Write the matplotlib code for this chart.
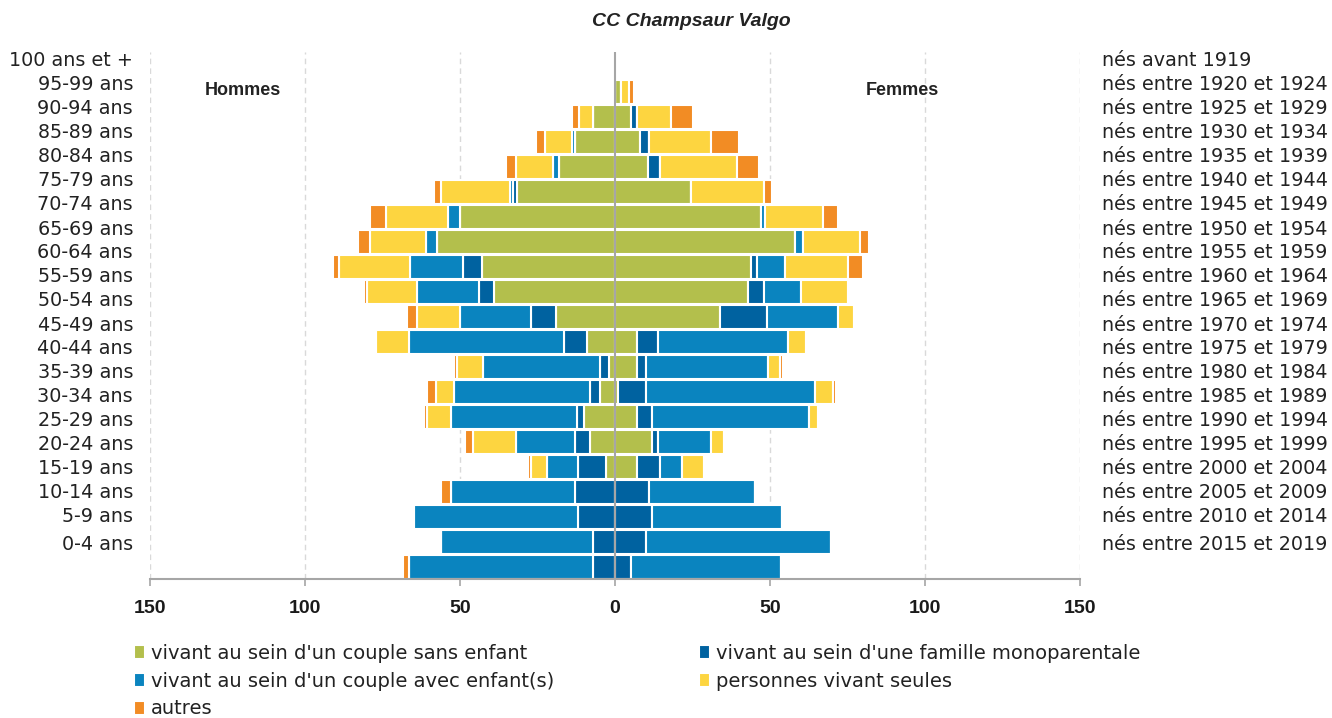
import numpy as np
import matplotlib
matplotlib.use("Agg")
import matplotlib.pyplot as plt

# age groups, bottom (0-4) to top (100+)
ages = ["0-4 ans", "5-9 ans", "10-14 ans", "15-19 ans", "20-24 ans", "25-29 ans",
        "30-34 ans", "35-39 ans", "40-44 ans", "45-49 ans", "50-54 ans", "55-59 ans",
        "60-64 ans", "65-69 ans", "70-74 ans", "75-79 ans", "80-84 ans", "85-89 ans",
        "90-94 ans", "95-99 ans", "100 ans et +"]
births = ["nés entre 2015 et 2019", "nés entre 2010 et 2014", "nés entre 2005 et 2009",
          "nés entre 2000 et 2004", "nés entre 1995 et 1999", "nés entre 1990 et 1994",
          "nés entre 1985 et 1989", "nés entre 1980 et 1984", "nés entre 1975 et 1979",
          "nés entre 1970 et 1974", "nés entre 1965 et 1969", "nés entre 1960 et 1964",
          "nés entre 1955 et 1959", "nés entre 1950 et 1954", "nés entre 1945 et 1949",
          "nés entre 1940 et 1944", "nés entre 1935 et 1939", "nés entre 1930 et 1934",
          "nés entre 1925 et 1929", "nés entre 1920 et 1924", "nés avant 1919"]

categories = ["vivant au sein d'un couple sans enfant",
              "vivant au sein d'une famille monoparentale",
              "vivant au sein d'un couple avec enfant(s)",
              "personnes vivant seules",
              "autres"]
colors = ["#B3BF4C", "#0062A0", "#0A84BF", "#FDD540", "#F28C24"]

# men, one list per category (bottom to top)
men_couple_sans = [0, 0, 0, 0, 3, 8, 10, 5, 2, 9, 19, 39, 43, 57.5, 50, 31.5, 18, 13, 7, 0, 0]
men_monoparent = [7, 7, 12, 13, 9, 5, 2.3, 3, 3, 7.5, 8, 5, 6, 0, 0, 1.5, 0, 0, 0, 0, 0]
men_couple_avec = [59.5, 49, 53, 40, 10, 18.8, 40.5, 43.8, 37.5, 50, 23, 20, 17, 3.5, 4, 1, 2, 1, 0, 0, 0]
men_seules = [0, 0, 0, 0, 5, 14, 8, 6, 8.5, 10.5, 14, 16, 23, 18, 20, 22, 12, 8.5, 4.5, 0, 0]
men_autres = [1.8, 0, 0, 3, 1.2, 2.6, 0.7, 2.8, 0.8, 0, 3, 1, 2, 4, 5, 2.5, 3, 3, 2.5, 0, 0]

# women
women_couple_sans = [0, 0, 0, 0, 7, 12, 7, 1, 7, 7, 34, 43, 44, 58, 47, 24.5, 10.5, 8, 5, 2, 0]
women_monoparent = [5, 10, 12, 11, 7.5, 2, 5, 9, 3, 7, 15, 5, 1.7, 0, 0, 0, 4, 3, 2, 0, 0]
women_couple_avec = [48.5, 59.7, 42, 34, 7.2, 17, 50.5, 54.5, 39.5, 41.7, 23, 12, 9, 2.5, 1.5, 0, 0, 0, 0, 0, 0]
women_seules = [0, 0, 0, 0, 7, 4, 3, 5.7, 3.8, 6, 5, 15, 20.3, 18.5, 18.5, 23.5, 25, 20, 11, 2.5, 0]
women_autres = [0, 0.5, 0.5, 0, 0.6, 0.6, 0.7, 1, 0.8, 0.7, 0.6, 0.8, 5, 3, 5, 2.5, 7, 9, 7, 1.5, 0]

men = [men_couple_sans, men_monoparent, men_couple_avec, men_seules, men_autres]
women = [women_couple_sans, women_monoparent, women_couple_avec, women_seules, women_autres]

W, H = 1332, 718
fig = plt.figure(figsize=(W / 100, H / 100), dpi=100)
ax = fig.add_axes([150 / W, 1 - 579 / H, 930 / W, 527 / H])

y = np.arange(len(ages))
handles = []
left_m = np.zeros(len(ages))
left_f = np.zeros(len(ages))
for k in range(len(categories)):
    vm = np.array(men[k], dtype=float)
    vf = np.array(women[k], dtype=float)
    b = ax.barh(y, -vm, left=-left_m, height=0.98, color=colors[k],
                edgecolor="white", linewidth=1.5, label=categories[k], zorder=2)
    ax.barh(y, vf, left=left_f, height=0.98, color=colors[k],
            edgecolor="white", linewidth=1.5, zorder=2)
    left_m += vm
    left_f += vf
    handles.append(b)

ax.set_xlim(-150, 150)
ax.set_ylim(-0.48, 20.6)
ticks = [-150, -100, -50, 0, 50, 100, 150]
ax.set_xticks(ticks)
ax.set_xticklabels([str(abs(t)) for t in ticks],
                   fontdict={"family": ["Liberation Sans Narrow", "Liberation Sans"],
                             "weight": "bold", "size": 14})
ax.set_yticks([])
for t in [-150, -100, -50, 50, 100, 150]:
    ax.axvline(t, color="#D9D9D9", linestyle=(0, (4, 3)), linewidth=1, zorder=1)
ax.axvline(0, color="#A6A6A6", linewidth=1.5, zorder=3)
for s in ["top", "left", "right"]:
    ax.spines[s].set_visible(False)
ax.spines["bottom"].set_color("#A6A6A6")
ax.spines["bottom"].set_linewidth(1.5)
ax.tick_params(axis="x", colors="#A6A6A6", labelcolor="#1a1a1a", length=5, width=1.2, pad=10)

# age labels and birth years (placed as a separate text column like the original)
for k in range(len(ages)):
    idx = len(ages) - 1 - k
    ypx = 545 if k == len(ages) - 1 else 61 + 24 * k
    fig.text(133 / W, 1 - ypx / H, ages[idx], ha="right", va="center",
             fontsize=13.8, color="#222222")
    fig.text(1102 / W, 1 - ypx / H, births[idx], ha="left", va="center",
             fontsize=13.8, color="#222222")

fig.text(691 / W, 1 - 22 / H, "CC Champsaur Valgo", ha="center", va="center",
         family="Liberation Sans", weight="bold", style="italic", fontsize=14,
         color="#222222")
ax.text(-120, 19.08, "Hommes", ha="center", va="center", family="Liberation Sans",
        weight="bold", fontsize=13, color="#222222")
ax.text(92.6, 19.08, "Femmes", ha="center", va="center", family="Liberation Sans",
        weight="bold", fontsize=13, color="#222222")

leg_kw = dict(frameon=False, loc="upper left", borderaxespad=0, borderpad=0,
              handlelength=0.55, handleheight=0.75, handletextpad=0.3,
              labelspacing=0.45, fontsize=14)
leg1 = fig.legend([handles[0], handles[2], handles[4]],
                  [categories[0], categories[2], categories[4]],
                  bbox_to_anchor=(134 / W, 1 - 644 / H), **leg_kw)
leg2 = fig.legend([handles[1], handles[3]], [categories[1], categories[3]],
                  bbox_to_anchor=(699 / W, 1 - 644 / H), **leg_kw)
for leg in (leg1, leg2):
    for txt in leg.get_texts():
        txt.set_color("#222222")

fig.savefig("out.png", dpi=100)
